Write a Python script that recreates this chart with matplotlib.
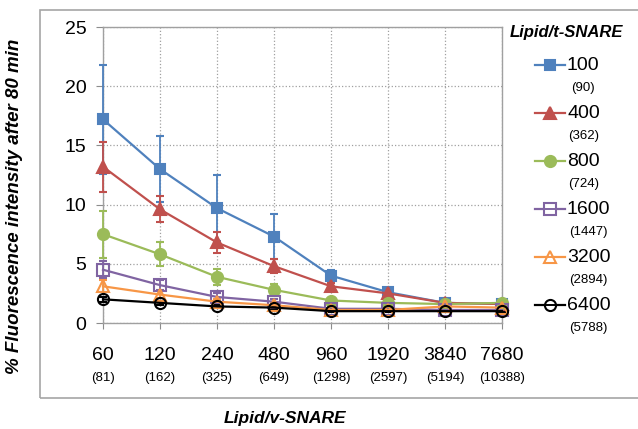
"""Fusion signal vs lipid/v-SNARE ratio for several lipid/t-SNARE ratios."""

import matplotlib

matplotlib.use("Agg")
import matplotlib.pyplot as plt
from matplotlib.lines import Line2D
from matplotlib.patches import Rectangle
from matplotlib.text import Annotation
from matplotlib.transforms import blended_transform_factory

plt.rcParams["font.family"] = ["Liberation Sans", "DejaVu Sans"]

v_ratio = ["60", "120", "240", "480", "960", "1920", "3840", "7680"]
v_ratio_sub = ["(81)", "(162)", "(325)", "(649)", "(1298)", "(2597)", "(5194)", "(10388)"]

t_ratio = ["100", "400", "800", "1600", "3200", "6400"]
t_ratio_sub = ["(90)", "(362)", "(724)", "(1447)", "(2894)", "(5788)"]

y_100 = [17.2, 13.0, 9.7, 7.3, 4.0, 2.6, 1.7, 1.6]
y_400 = [13.2, 9.6, 6.8, 4.8, 3.1, 2.5, 1.7, 1.6]
y_800 = [7.5, 5.8, 3.9, 2.8, 1.9, 1.7, 1.6, 1.7]
y_1600 = [4.5, 3.2, 2.2, 1.8, 1.2, 1.2, 1.1, 1.1]
y_3200 = [3.1, 2.4, 1.8, 1.5, 1.1, 1.1, 1.4, 1.3]
y_6400 = [2.0, 1.7, 1.4, 1.3, 1.0, 1.0, 1.0, 1.0]

err_100 = [4.6, 2.8, 2.8, 1.9, 0.5, 0.3, 0.1, 0.1]
err_400 = [2.1, 1.1, 0.9, 0.6, 0.3, 0.2, 0.1, 0.1]
err_800 = [2.0, 1.0, 0.7, 0.5, 0.2, 0.1, 0.1, 0.1]
err_1600 = [0.7, 0.4, 0.3, 0.2, 0.1, 0.1, 0.1, 0.1]
err_3200 = [0.5, 0.3, 0.2, 0.2, 0.1, 0.1, 0.1, 0.1]
err_6400 = [0.2, 0.2, 0.1, 0.1, 0.1, 0.1, 0.1, 0.1]

SERIES = [
    (y_100, err_100, "#4F81BD", "s", True, 7.5),
    (y_400, err_400, "#C0504D", "^", True, 8.5),
    (y_800, err_800, "#9BBB59", "o", True, 8),
    (y_1600, err_1600, "#8064A2", "s", False, 8),
    (y_3200, err_3200, "#F79646", "^", False, 8.5),
    (y_6400, err_6400, "#000000", "o", False, 8),
]

W, H = 638, 429
fig = plt.figure(figsize=(W / 100, H / 100), dpi=100)

# outer chart border
fig.patches.append(
    Rectangle((40 / W, 1 - 398 / H), 640 / W, 388 / H, transform=fig.transFigure,
              fill=False, edgecolor="#a6a6a6", linewidth=1.2, clip_on=False)
)

ax = fig.add_axes([103 / W, 1 - 323 / H, (502 - 103) / W, (323 - 27) / H])
x = list(range(len(v_ratio)))

for values, errs, color, marker, filled, ms in SERIES:
    cont = ax.errorbar(x, values, yerr=errs, color=color, ecolor=color, elinewidth=1.3,
                       capsize=3, capthick=1.3, linewidth=1.6, marker=marker, markersize=ms,
                       markerfacecolor=color if filled else "none", markeredgecolor=color,
                       markeredgewidth=1.5, zorder=3)
    for artist in cont.get_children():
        artist.set_clip_on(False)

ax.set_xlim(0, len(v_ratio) - 1)
ax.set_ylim(0, 25)
ax.set_yticks([0, 5, 10, 15, 20, 25])
ax.set_xticks(x)
ax.set_xticklabels(v_ratio)
ax.tick_params(axis="both", labelsize=14, color="#8c8c8c", direction="out")
ax.tick_params(axis="x", length=4, pad=13)
ax.tick_params(axis="y", length=5, pad=7)
ax.grid(True, linestyle=":", color="#a0a0a0", linewidth=0.9)
ax.set_axisbelow(True)
for spine in ax.spines.values():
    spine.set_color("#a0a0a0")
    spine.set_linewidth(1.0)

trans = blended_transform_factory(ax.transData, ax.transAxes)
for xi, sub in zip(x, v_ratio_sub):
    ax.text(xi, -55 / (323 - 27), sub, transform=trans, ha="center", va="center", fontsize=9.5)

ax.set_xlabel("Lipid/v-SNARE", fontsize=12.5, fontweight="bold", fontstyle="italic", labelpad=0)
ax.xaxis.set_label_coords((285 - 103) / (502 - 103), -(411 - 323) / (323 - 27))
fig.text(15 / W, 1 - 206 / H, "% Fluorescence intensity after 80 min", rotation=90,
         ha="center", va="center", fontsize=13.5, fontweight="bold", fontstyle="italic")

# manual legend
fig.text(566 / W, 1 - 33 / H, "Lipid/t-SNARE", ha="center", va="center", fontsize=12,
         fontweight="bold", fontstyle="italic")
for i, ((values, errs, color, marker, filled, ms), label, sub) in enumerate(
        zip(SERIES, t_ratio, t_ratio_sub)):
    yy = 1 - (65 + i * 48) / H
    fig.lines.append(Line2D([535 / W, 565 / W], [yy, yy], transform=fig.transFigure,
                            color=color, linewidth=1.6))
    fig.lines.append(Line2D([550 / W], [yy], transform=fig.transFigure, marker=marker,
                            markersize=ms, markerfacecolor=color if filled else "white",
                            markeredgecolor=color, markeredgewidth=1.5, linestyle="none"))
    if not filled:
        fig.lines.append(Line2D([545 / W, 555 / W], [yy, yy], transform=fig.transFigure,
                                color=color, linewidth=1.4))
    main = fig.text(567 / W, yy, label, ha="left", va="center", fontsize=14)
    fig.add_artist(
        Annotation(sub, xy=(0.5, 0), xycoords=main, xytext=(0, -6),
                   textcoords="offset points", ha="center", va="top", fontsize=9.5)
    )

fig.savefig("out.png", dpi=100)
